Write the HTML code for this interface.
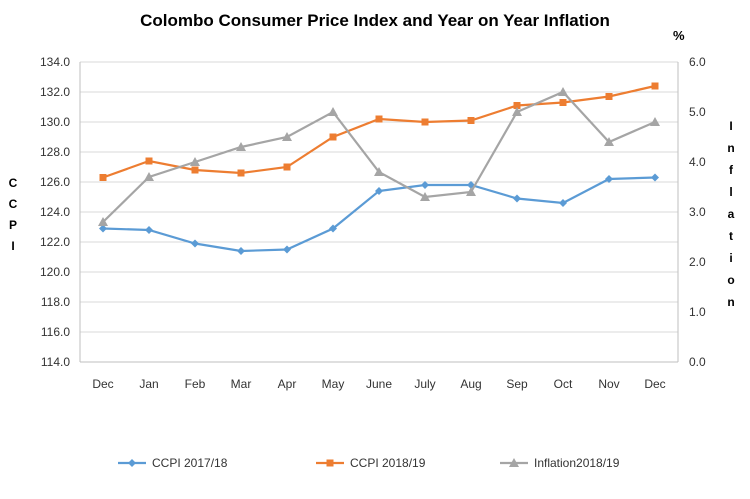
<!DOCTYPE html>
<html><head><meta charset="utf-8"><style>
body{margin:0;background:#fff;width:750px;height:494px;overflow:hidden;font-family:"Liberation Sans",sans-serif}
</style></head><body>
<svg id="c" width="750" height="494" font-family="Liberation Sans, sans-serif"></svg>
<script>
const categories=["Dec","Jan","Feb","Mar","Apr","May","June","July","Aug","Sep","Oct","Nov","Dec"];
const ccpi1718=[122.9,122.8,121.9,121.4,121.5,122.9,125.4,125.8,125.8,124.9,124.6,126.2,126.3];
const ccpi1819=[126.3,127.4,126.8,126.6,127.0,129.0,130.2,130.0,130.1,131.1,131.3,131.7,132.4];
const inflation=[2.8,3.7,4.0,4.3,4.5,5.0,3.8,3.3,3.4,5.0,5.4,4.4,4.8];
const leftTicks=[114,116,118,120,122,124,126,128,130,132,134];
const rightTicks=[0,1,2,3,4,5,6];
const svg=document.getElementById('c');const NS='http://www.w3.org/2000/svg';
function mk(t,a,p){const e=document.createElementNS(NS,t);for(const k in a)e.setAttribute(k,a[k]);(p||svg).appendChild(e);return e;}
const L=80,R=678,T=62,B=362;
const x=i=>L+(i+0.5)*(R-L)/categories.length;
const yl=v=>B-(v-114)/20*(B-T);
const yr=v=>B-v/6*(B-T);
let t=mk('text',{x:375,y:26,'text-anchor':'middle','font-size':17,'font-weight':'bold',fill:'#000'});t.textContent='Colombo Consumer Price Index and Year on Year Inflation';

leftTicks.forEach(v=>{const g=mk('line',{x1:L,x2:R,y1:yl(v),y2:yl(v),stroke:'#d9d9d9'});
const tx=mk('text',{x:70,y:yl(v)+4,'text-anchor':'end','font-size':12,fill:'#333'});tx.textContent=v.toFixed(1);});
rightTicks.forEach(v=>{const tx=mk('text',{x:689,y:yr(v)+4,'font-size':12,fill:'#333'});tx.textContent=v.toFixed(1);});
mk('line',{x1:L,x2:L,y1:T,y2:B,stroke:'#bfbfbf'});mk('line',{x1:R,x2:R,y1:T,y2:B,stroke:'#bfbfbf'});mk('line',{x1:L,x2:R,y1:B,y2:B,stroke:'#bfbfbf'});
categories.forEach((c,i)=>{const tx=mk('text',{x:x(i),y:388,'text-anchor':'middle','font-size':12,fill:'#333'});tx.textContent=c;});
let p=mk('text',{x:673,y:40,'font-size':13,'font-weight':'bold'});p.textContent='%';
['C','C','P','I'].forEach((ch,i)=>{const e=mk('text',{x:13,y:187+i*21,'font-size':12,'font-weight':'bold','text-anchor':'middle'});e.textContent=ch;});
'Inflation'.split('').forEach((ch,i)=>{const e=mk('text',{x:731,y:130+i*22,'font-size':12,'font-weight':'bold','text-anchor':'middle'});e.textContent=ch;});
function series(vals,yf,col,shape,name){
const ln=mk('polyline',{points:vals.map((v,i)=>x(i)+','+yf(v)).join(' '),fill:'none',stroke:col,'stroke-width':2.2});

vals.forEach((v,i)=>{marker(x(i),yf(v),col,shape,name);});}
function marker(cx,cy,col,shape,name){let m;
if(shape==='d')m=mk('polygon',{points:`${cx},${cy-4} ${cx+4},${cy} ${cx},${cy+4} ${cx-4},${cy}`,fill:col});
else if(shape==='s')m=mk('rect',{x:cx-3.5,y:cy-3.5,width:7,height:7,fill:col});
else m=mk('polygon',{points:`${cx},${cy-5} ${cx+5},${cy+4} ${cx-5},${cy+4}`,fill:col});
}
series(ccpi1718,yl,'#5b9bd5','d','ccpi-2017-18');
series(ccpi1819,yl,'#ed7d31','s','ccpi-2018-19');
series(inflation,yr,'#a5a5a5','t','inflation-2018-19');
[[118,'#5b9bd5','d','CCPI 2017/18'],[316,'#ed7d31','s','CCPI 2018/19'],[500,'#a5a5a5','t','Inflation2018/19']].forEach(([lx,col,sh,lab])=>{
const g=mk('g',{});
mk('line',{x1:lx,x2:lx+28,y1:463,y2:463,stroke:col,'stroke-width':2.2},g);marker(lx+14,463,col,sh,'legend');
const tx=mk('text',{x:lx+34,y:467,'font-size':12,fill:'#333'},g);tx.textContent=lab;});
</script></body></html>
